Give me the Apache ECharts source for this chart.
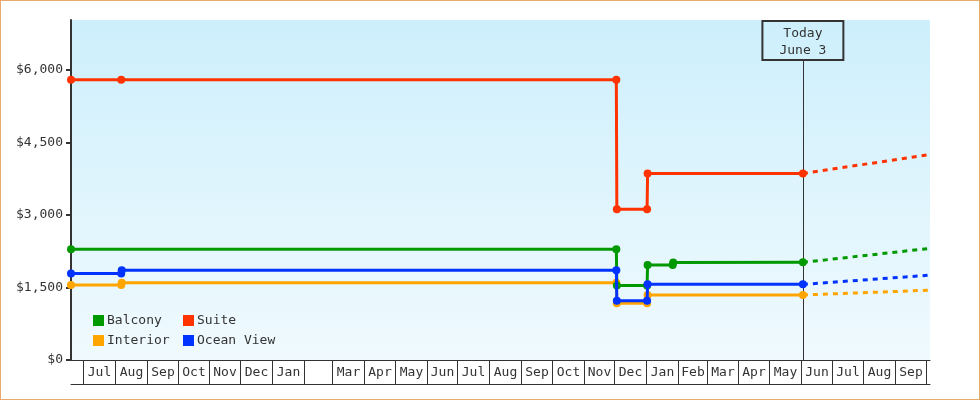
<!DOCTYPE html>
<html><head><meta charset="utf-8">
<script src="https://cdn.jsdelivr.net/npm/echarts@6/dist/echarts.min.js"></script>
<style>
html,body{margin:0;padding:0;background:#fff}
#c{position:absolute;left:0;top:0;width:980px;height:400px}
#frame{position:absolute;left:0;top:0;width:980px;height:400px;box-sizing:border-box;border:1px solid #e9aa6c;pointer-events:none}
</style>
</head><body><div id="c"></div><div id="frame"></div>
<script>
// ---- axis / tick data ----
const monthLabels = ['Jul','Aug','Sep','Oct','Nov','Dec','Jan','','Mar','Apr','May','Jun','Jul','Aug','Sep','Oct','Nov','Dec','Jan','Feb','Mar','Apr','May','Jun','Jul','Aug','Sep'];
const firstMonth = [2013, 7];
const xRange = ['2013-06-19', '2015-10-05'];
const yTicks = [0, 1500, 3000, 4500, 6000];
const yMax = 7034;
const todayDate = '2015-06-03';
const todayLabel = 'Today\nJune 3';
const todayBoxValue = 6206;

// ---- series data ----
const seriesNames = ['Balcony', 'Suite', 'Interior', 'Ocean View'];
const balconyDates  = ['2013-06-19','2014-12-03','2014-12-03 12:00','2015-01-02','2015-01-02 12:00','2015-01-27','2015-01-27 12:00','2015-06-03'];
const balconyValues = [2290, 2290, 1540, 1540, 1965, 1965, 2015, 2020];
const suiteDates    = ['2013-06-19','2013-08-07','2014-12-03','2014-12-03 12:00','2015-01-02','2015-01-02 12:00','2015-06-03'];
const suiteValues   = [5800, 5800, 5800, 3120, 3120, 3860, 3860];
const interiorDates = ['2013-06-19','2013-08-07','2013-08-07 12:00','2014-12-03','2014-12-03 12:00','2015-01-02','2015-01-02 12:00','2015-06-03'];
const interiorValues= [1550, 1550, 1600, 1600, 1175, 1175, 1345, 1345];
const oceanDates    = ['2013-06-19','2013-08-07','2013-08-07 12:00','2014-12-03','2014-12-03 12:00','2015-01-02','2015-01-02 12:00','2015-06-03'];
const oceanValues   = [1790, 1790, 1855, 1855, 1225, 1225, 1565, 1565];

const forecastDates = ['2015-06-03', '2015-10-05'];
const balconyForecast  = [2020, 2310];
const suiteForecast    = [3860, 4250];
const interiorForecast = [1345, 1445];
const oceanForecast    = [1565, 1755];

// ---- helpers ----
function ts(s) {
  const m = s.match(/(\d+)-(\d+)-(\d+)(?:[ T](\d+):(\d+))?/);
  return new Date(+m[1], +m[2] - 1, +m[3], m[4] ? +m[4] : 0, m[5] ? +m[5] : 0).getTime();
}
function pairs(d, v) { return d.map((x, i) => [ts(x), v[i]]); }

const FONT = '"DejaVu Sans Mono", "Liberation Mono", monospace';
const TXT = '#333333';
const COLORS = { 'Balcony': '#009900', 'Suite': '#ff3300', 'Interior': '#ffa500', 'Ocean View': '#0033ff' };

const monthCells = monthLabels.map((l, i) => [
  new Date(firstMonth[0], firstMonth[1] - 1 + i, 1).getTime(),
  new Date(firstMonth[0], firstMonth[1] + i, 1).getTime(),
  0
]);

function solid(name, d, v, z) {
  return {
    name, type: 'line', data: pairs(d, v), z,
    symbol: 'circle', symbolSize: 8, showSymbol: true,
    lineStyle: { width: 3, color: COLORS[name] },
    itemStyle: { color: COLORS[name] },
    emphasis: { disabled: true }
  };
}
function dashed(name, v, z) {
  return {
    name: name + ' forecast', type: 'line', data: pairs(forecastDates, v), z,
    showSymbol: false, symbol: 'none',
    lineStyle: { width: 3, color: COLORS[name], type: [5, 5] },
    itemStyle: { color: COLORS[name] },
    emphasis: { disabled: true }
  };
}

const legendCommon = {
  orient: 'vertical', top: 314, padding: 0, itemWidth: 11, itemHeight: 11, itemGap: 7,
  icon: 'rect', itemStyle: { borderWidth: 0 },
  textStyle: { fontFamily: FONT, fontSize: 13, color: TXT, padding: [0, 0, 0, -2] },
  selectedMode: false
};

const chart = echarts.init(document.getElementById('c'), null, { renderer: 'canvas' });
chart.setOption({
  animation: false,
  textStyle: { fontFamily: FONT },
  grid: {
    left: 71, right: 50, top: 20, bottom: 40, show: true, borderWidth: 0,
    backgroundColor: { type: 'linear', x: 0, y: 0, x2: 0, y2: 1,
      colorStops: [{ offset: 0, color: '#cdeffc' }, { offset: 1, color: '#f0fafe' }] }
  },
  legend: [
    Object.assign({}, legendCommon, { left: 93, data: [seriesNames[0], seriesNames[2]] }),
    Object.assign({}, legendCommon, { left: 183, data: [seriesNames[1], seriesNames[3]] })
  ],
  xAxis: [{
    type: 'time', min: ts(xRange[0]), max: ts(xRange[1]),
    axisLine: { show: true, lineStyle: { color: TXT, width: 1 } },
    axisTick: { show: false }, axisLabel: { show: false }, splitLine: { show: false }
  }, {
    type: 'time', min: ts(xRange[0]), max: ts(xRange[1]), position: 'bottom', offset: 24,
    axisLine: { show: true, lineStyle: { color: TXT, width: 1 } },
    axisTick: { show: false }, axisLabel: { show: false }, splitLine: { show: false }
  }],
  yAxis: {
    type: 'value', min: 0, max: yMax,
    axisLine: { show: true, lineStyle: { color: TXT, width: 2 } },
    axisTick: { show: true, length: 5, lineStyle: { color: TXT, width: 2 }, customValues: yTicks },
    axisLabel: { customValues: yTicks, margin: 8, color: TXT, fontFamily: FONT, fontSize: 13,
      formatter: v => '$' + Number(v).toLocaleString('en-US') },
    splitLine: { show: false }
  },
  series: [
    {
      type: 'custom', name: 'months', data: monthCells, silent: true, clip: false, z: 3,
      encode: { x: [0, 1], y: 2 },
      renderItem: function (params, api) {
        const s = api.coord([api.value(0), 0]);
        const e = api.coord([api.value(1), 0]);
        const x0 = Math.round(s[0]), x1 = Math.round(e[0]), y0 = Math.round(s[1]);
        return {
          type: 'group',
          children: [
            { type: 'rect', shape: { x: x0 + 0.5, y: y0 + 0.5, width: x1 - x0, height: 24 },
              style: { fill: 'none', stroke: TXT, lineWidth: 1 } },
            { type: 'text', x: (x0 + x1) / 2 + 0.5, y: y0 + 13,
              style: { text: monthLabels[params.dataIndex], align: 'center', verticalAlign: 'middle',
                font: '13px ' + FONT, fill: TXT } }
          ]
        };
      },
      markLine: {
        silent: true, symbol: ['none', 'none'], z: 1, animation: false,
        lineStyle: { color: TXT, width: 1, type: 'solid' },
        label: {
          show: true, position: 'end', formatter: todayLabel, distance: 0,
          color: TXT, fontFamily: FONT, fontSize: 13, lineHeight: 17,
          padding: [4, 17, 1, 17], borderColor: TXT, borderWidth: 1, backgroundColor: 'transparent'
        },
        data: [[{ coord: [ts(todayDate), 0] }, { coord: [ts(todayDate), todayBoxValue] }]]
      }
    },
    dashed('Interior', interiorForecast, 4),
    dashed('Balcony', balconyForecast, 4),
    dashed('Ocean View', oceanForecast, 4),
    dashed('Suite', suiteForecast, 4),
    solid('Interior', interiorDates, interiorValues, 5),
    solid('Balcony', balconyDates, balconyValues, 6),
    solid('Ocean View', oceanDates, oceanValues, 7),
    solid('Suite', suiteDates, suiteValues, 8)
  ]
});
</script>
</body></html>
